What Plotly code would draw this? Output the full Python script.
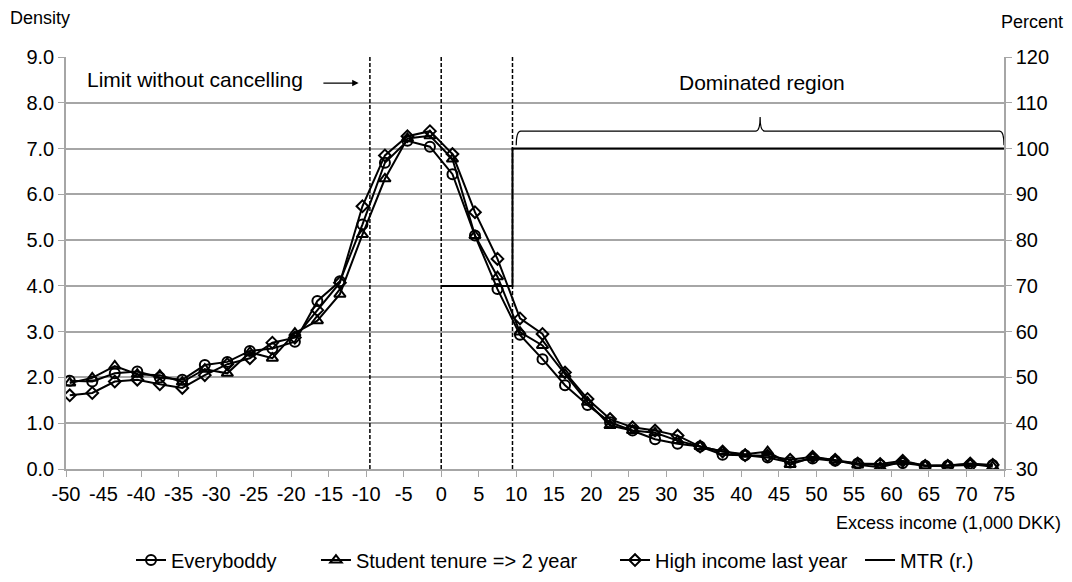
import plotly.graph_objects as go

# bin centres (1,000 DKK), 3k wide bins
income = [-49.5, -46.5, -43.5, -40.5, -37.5, -34.5, -31.5, -28.5, -25.5, -22.5,
          -19.5, -16.5, -13.5, -10.5, -7.5, -4.5, -1.5, 1.5, 4.5, 7.5,
          10.5, 13.5, 16.5, 19.5, 22.5, 25.5, 28.5, 31.5, 34.5, 37.5,
          40.5, 43.5, 46.5, 49.5, 52.5, 55.5, 58.5, 61.5, 64.5, 67.5,
          70.5, 73.5]

everybody = [1.93, 1.91, 2.09, 2.13, 2.00, 1.95, 2.27, 2.34, 2.58, 2.63,
             2.78, 3.67, 4.10, 5.34, 6.69, 7.17, 7.04, 6.44, 5.10, 3.93,
             2.93, 2.40, 1.83, 1.40, 1.02, 0.84, 0.65, 0.55, 0.49, 0.31,
             0.30, 0.25, 0.14, 0.23, 0.18, 0.12, 0.09, 0.13, 0.07, 0.07,
             0.09, 0.09]

student = [1.88, 1.99, 2.25, 2.07, 2.05, 1.90, 2.18, 2.09, 2.55, 2.42,
           2.97, 3.24, 3.82, 5.12, 6.34, 7.22, 7.28, 6.77, 5.10, 4.20,
           2.99, 2.70, 2.07, 1.46, 0.95, 0.84, 0.79, 0.62, 0.49, 0.38,
           0.32, 0.38, 0.10, 0.25, 0.19, 0.09, 0.04, 0.16, 0.07, 0.08,
           0.11, 0.05]

high_income = [1.61, 1.66, 1.91, 1.95, 1.85, 1.77, 2.05, 2.29, 2.42, 2.76,
               2.87, 3.47, 4.07, 5.74, 6.85, 7.27, 7.38, 6.88, 5.61, 4.59,
               3.29, 2.95, 2.11, 1.53, 1.09, 0.91, 0.84, 0.73, 0.49, 0.38,
               0.30, 0.29, 0.20, 0.27, 0.20, 0.12, 0.11, 0.18, 0.07, 0.07,
               0.12, 0.09]

# marginal tax rate, percent (right axis)
mtr_x = [0, 9.5, 9.5, 75]
mtr_y = [70, 70, 100, 100]

x_ticks = list(range(-50, 80, 5))
x_ticktext = [str(t) for t in x_ticks]   # plain hyphen, like the original

limits = [-9.5, 0, 9.5]
dom_start, dom_end = 10, 75

FONT = "Liberation Sans, Arial, sans-serif"
GREY = "#a6a6a6"

fig = go.Figure()

series = [
    ("Everyboddy", everybody, "circle-open", 10, "legend"),
    ("Student tenure => 2 year", student, "triangle-up-open", 10, "legend2"),
    ("High income last year", high_income, "diamond-open", 9, "legend3"),
]
for name, vals, sym, sz, lg in series:
    fig.add_trace(go.Scatter(
        x=income, y=vals, name=name, mode="lines+markers", legend=lg,
        line=dict(color="black", width=2),
        marker=dict(symbol=sym, size=sz, color="black",
                    line=dict(width=2, color="black")),
    ))

fig.add_trace(go.Scatter(
    x=mtr_x, y=mtr_y, name="MTR (r.)", mode="lines", yaxis="y2",
    legend="legend4", line=dict(color="black", width=2),
))

for lx in limits:
    fig.add_shape(type="line", x0=lx, x1=lx, y0=0, y1=9, xref="x", yref="y",
                  line=dict(color="black", width=1.5, dash="4px,2px"))

# curly brace over dominated region
mid = (dom_start + dom_end) / 2
yb, ym, yt = 7.07, 7.38, 7.69
r = 0.6
brace = (f"M {dom_start},{yb} Q {dom_start},{ym} {dom_start + r},{ym} "
         f"L {mid - r},{ym} Q {mid},{ym} {mid},{yt} "
         f"Q {mid},{ym} {mid + r},{ym} "
         f"L {dom_end - r},{ym} Q {dom_end},{ym} {dom_end},{yb}")
fig.add_shape(type="path", path=brace, xref="x", yref="y",
              line=dict(color="black", width=1.2))

fig.add_annotation(x=-32.8, y=8.5, text="Limit without cancelling",
                   showarrow=False, font=dict(size=21, color="black"))
fig.add_annotation(x=-11.0, y=8.43, ax=-15.9, ay=8.43, axref="x", ayref="y",
                   text="", showarrow=True, arrowhead=2, arrowsize=1,
                   arrowwidth=1.3, arrowcolor="black")
fig.add_annotation(x=mid + 0.3, y=8.45, text="Dominated region",
                   showarrow=False, font=dict(size=21, color="black"))

fig.add_annotation(x=-0.062, y=1.095, xref="paper", yref="paper",
                   xanchor="left", yanchor="middle",
                   text="Density", showarrow=False, font=dict(size=18, color="black"))
fig.add_annotation(x=1.065, y=1.085, xref="paper", yref="paper",
                   xanchor="right", yanchor="middle",
                   text="Percent", showarrow=False, font=dict(size=18, color="black"))
fig.add_annotation(x=1.063, y=-0.13, xref="paper", yref="paper",
                   xanchor="right", yanchor="middle",
                   text="Excess income (1,000 DKK)", showarrow=False,
                   font=dict(size=18, color="black"))

legend_style = dict(orientation="h", xanchor="left", y=-0.221, yanchor="middle",
                    font=dict(size=20), bgcolor="rgba(0,0,0,0)", itemwidth=30)

# page body adds an 8px margin, so the figure is 8px smaller and shifted
fig.update_layout(
    width=1064, height=574,
    margin=dict(l=58, r=68, t=49, b=113, autoexpand=False),
    paper_bgcolor="white", plot_bgcolor="white",
    font=dict(family=FONT, size=20, color="black"),
    xaxis=dict(range=[-50, 75], tickvals=x_ticks, ticktext=x_ticktext,
               showgrid=False, showline=True, linecolor=GREY, linewidth=1.5,
               ticks="outside", ticklen=6, tickcolor=GREY,
               zeroline=False, tickfont=dict(size=20)),
    yaxis=dict(range=[0, 9], dtick=1, tickformat=".1f", showgrid=True,
               gridcolor=GREY, gridwidth=1.5, showline=True,
               linecolor=GREY, linewidth=1.5, ticks="outside",
               ticklen=6, tickcolor=GREY, zeroline=False,
               tickfont=dict(size=20)),
    yaxis2=dict(range=[30, 120], dtick=10, overlaying="y", side="right",
                showgrid=False, showline=True, linecolor=GREY,
                linewidth=1.5, ticks="outside", ticklen=6,
                tickcolor=GREY, zeroline=False, tickfont=dict(size=20)),
    legend=dict(x=0.0693, **legend_style),
    legend2=dict(x=0.2665, **legend_style),
    legend3=dict(x=0.5853, **legend_style),
    legend4=dict(x=0.8465, **legend_style),
    showlegend=True,
)

fig.write_html("out.html")
